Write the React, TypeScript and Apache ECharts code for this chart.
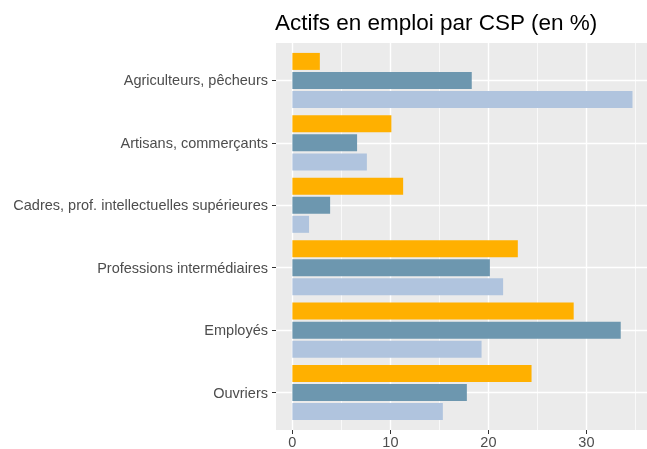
import React, { useEffect, useRef } from "react";
import * as echarts from "echarts";

const categories = [
  "Agriculteurs, pêcheurs",
  "Artisans, commerçants",
  "Cadres, prof. intellectuelles supérieures",
  "Professions intermédiaires",
  "Employés",
  "Ouvriers",
];
const seriesA = [2.8, 10.1, 11.3, 23.0, 28.7, 24.4];
const seriesB = [18.3, 6.6, 3.85, 20.15, 33.5, 17.8];
const seriesC = [34.7, 7.6, 1.7, 21.5, 19.3, 15.35];
const majorTicks = [0, 10, 20, 30];
const minorTicks = [5, 15, 25, 35];
const catPositions = [1, 2, 3, 4, 5, 6];

const FONT = "'Liberation Sans', Arial, sans-serif";
const X_MIN = -1.673;
const X_MAX = 36.18;

export default function App() {
  const ref = useRef<HTMLDivElement>(null);
  useEffect(() => {
    if (!ref.current) return;
    const chart = echarts.init(ref.current, null, { renderer: "svg" });
    const band = 387 / 6.2;
    const barStyle = { barWidth: 17, barGap: "12%" };
    chart.setOption({
      animation: false,
      title: {
        text: "Actifs en emploi par CSP (en %)",
        left: 270,
        top: 6,
        textStyle: { color: "#000", fontWeight: "normal", fontSize: 22.5, fontFamily: FONT },
      },
      grid: [
        { left: 276, right: 0, top: 43 + 0.1 * band, height: 6 * band, containLabel: false },
        {
          left: 276, right: 0, top: 43, height: 387, containLabel: false,
          show: true, backgroundColor: "#EBEBEB", borderWidth: 0,
        },
      ],
      xAxis: [
        { type: "value", gridIndex: 0, min: X_MIN, max: X_MAX, show: false },
        {
          type: "value", gridIndex: 1, min: X_MIN, max: X_MAX,
          axisLine: { show: false, onZero: false },
          axisTick: { show: true, customValues: majorTicks, length: 4, lineStyle: { color: "#333", width: 1 } },
          axisLabel: { show: true, customValues: majorTicks, color: "#4D4D4D", fontSize: 14.5, fontFamily: FONT, margin: 4 },
          splitLine: { show: true, lineStyle: { color: "#fff", width: 1.4 } },
        },
        {
          type: "value", gridIndex: 1, min: X_MIN, max: X_MAX,
          axisLine: { show: false, onZero: false },
          axisTick: { show: false, customValues: minorTicks },
          axisLabel: { show: false },
          splitLine: { show: true, lineStyle: { color: "#fff", width: 0.7 } },
        },
      ],
      yAxis: [
        {
          type: "category", gridIndex: 0, data: categories, inverse: true,
          axisLine: { show: false, onZero: false },
          axisTick: { show: true, alignWithLabel: true, length: 4, lineStyle: { color: "#333", width: 1 } },
          axisLabel: { color: "#4D4D4D", fontSize: 14.5, fontFamily: FONT, margin: 8 },
          splitLine: { show: false },
        },
        {
          type: "value", gridIndex: 1, min: 0.4, max: 6.6,
          axisLine: { show: false, onZero: false },
          axisTick: { show: false, customValues: catPositions },
          axisLabel: { show: false },
          splitLine: { show: true, lineStyle: { color: "#fff", width: 1.4 } },
        },
      ],
      series: [
        { type: "bar", xAxisIndex: 0, yAxisIndex: 0, data: seriesA, itemStyle: { color: "#FFB000" }, ...barStyle },
        { type: "bar", xAxisIndex: 0, yAxisIndex: 0, data: seriesB, itemStyle: { color: "#6D97AF" }, ...barStyle },
        { type: "bar", xAxisIndex: 0, yAxisIndex: 0, data: seriesC, itemStyle: { color: "#B0C4DE" }, ...barStyle },
      ],
    });
    return () => chart.dispose();
  }, []);
  return <div ref={ref} style={{ position: "fixed", left: 0, top: 0, width: 647, height: 449 }} />;
}
